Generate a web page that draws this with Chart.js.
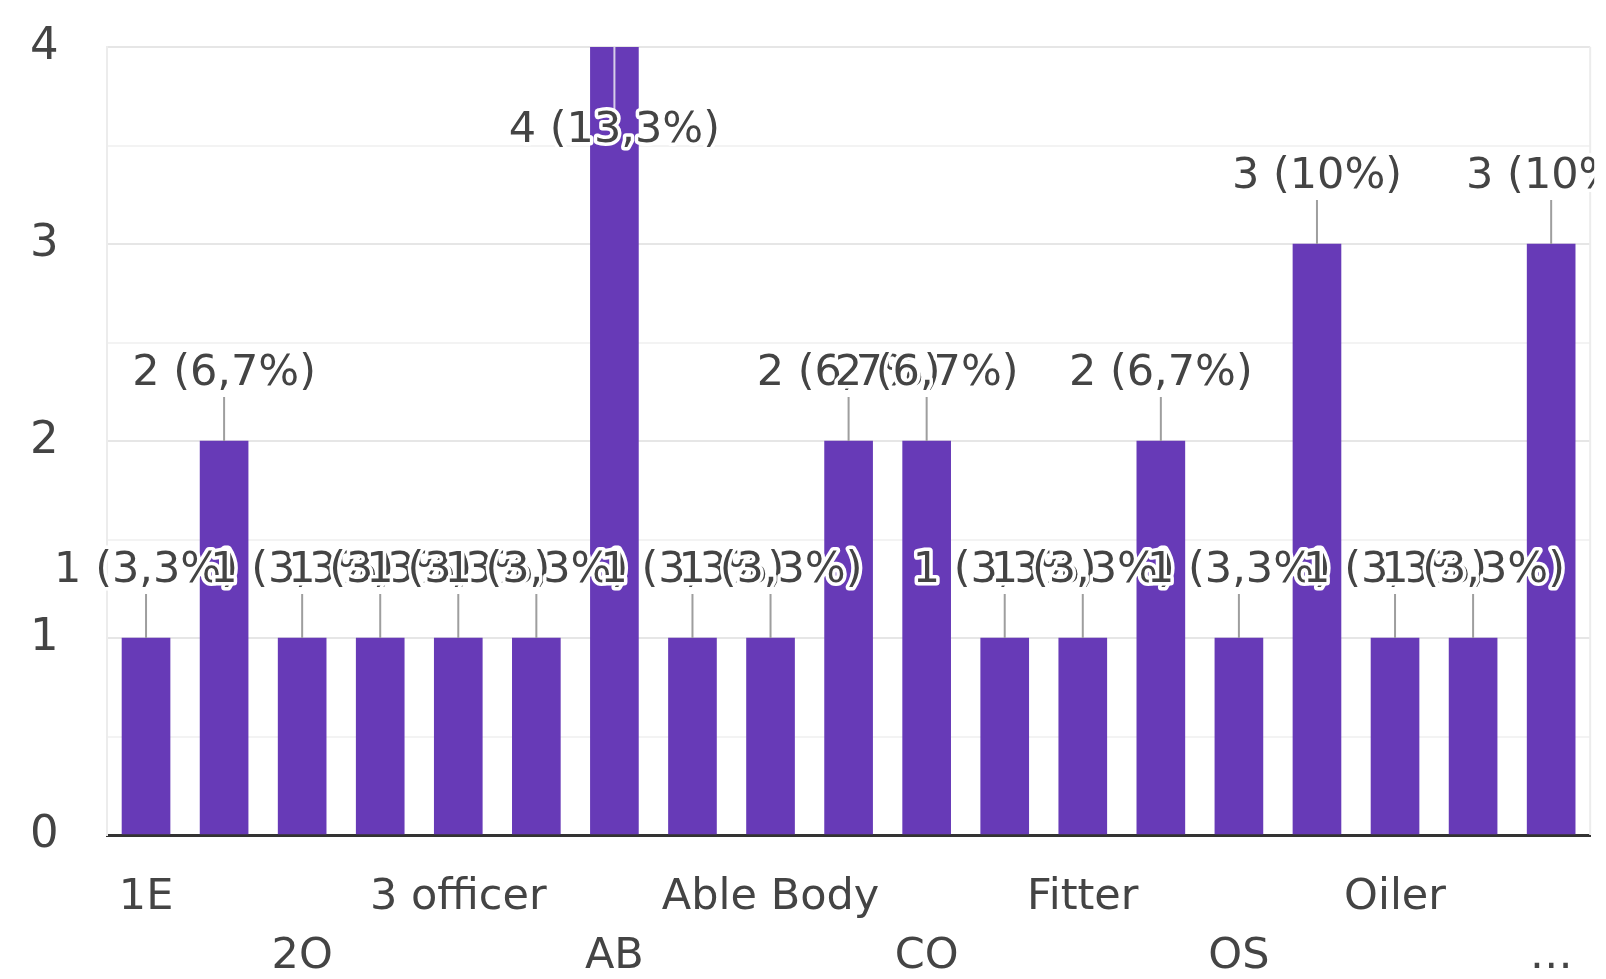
<!DOCTYPE html>
<html>
<head>
<meta charset="utf-8">
<title>Responses by position</title>
<script src="https://cdn.jsdelivr.net/npm/chart.js@4.4.1/dist/chart.umd.min.js"></script>
<style>
    html, body { margin: 0; padding: 0; background: #ffffff; }
    #wrap { width: 1606px; height: 979px; position: relative; }
</style>
</head>
<body>
<div id="wrap"><canvas id="chart"></canvas></div>
<script>
// Data (30 responses in total)
const positions = ['1E', '2E', '2O', '2nd Officer', '3 officer', '3E', 'AB', 'AB seaman', 'Able Body',
    'Bosun', 'CO', 'Cook', 'Fitter', 'Master', 'OS', 'Officer', 'Oiler', 'Wiper', '…'];
const responses = [1, 2, 1, 1, 1, 1, 4, 1, 1, 2, 2, 1, 1, 2, 1, 3, 1, 1, 3];
const yTicks = [0, 1, 2, 3, 4];

const BAR_COLOR = '#673ab7';
const TEXT_COLOR = '#444444';
const FONT_FAMILY = '"DejaVu Sans", "Liberation Sans", sans-serif';

const total = responses.reduce((a, b) => a + b, 0);

/**
 * "1 (3,3%)" style label, comma as decimal mark
 */
function formatLabel(v) {
    let pct = (v / total * 100).toFixed(1).replace(/\.0$/, '').replace('.', ',');
    return v + ' (' + pct + '%)';
}

// Value labels with leader lines and a white halo, like the Forms summary charts
const valueLabels = {
    id: 'valueLabels',
    afterDatasetsDraw(chart) {
        const ctx = chart.ctx;
        const area = chart.chartArea;
        const meta = chart.getDatasetMeta(0);
        ctx.save();
        ctx.beginPath();
        ctx.rect(0, 0, area.right + 4, chart.height);
        ctx.clip();
        ctx.font = '43px ' + FONT_FAMILY;
        ctx.textAlign = 'center';
        ctx.textBaseline = 'middle';
        ctx.lineJoin = 'round';
        meta.data.forEach((bar, i) => {
            const text = formatLabel(responses[i]);
            let ty = bar.y - 67;
            const inside = ty - 20 < 0;
            ctx.lineWidth = 2;
            ctx.beginPath();
            if (inside) {
                ty = bar.y + 84;
                ctx.strokeStyle = '#d6cdea';
                ctx.moveTo(bar.x, bar.y);
                ctx.lineTo(bar.x, ty);
            } else {
                ctx.strokeStyle = '#9e9e9e';
                ctx.moveTo(bar.x, bar.y);
                ctx.lineTo(bar.x, bar.y - 44);
            }
            ctx.stroke();
            ctx.lineWidth = 7;
            ctx.strokeStyle = '#ffffff';
            ctx.strokeText(text, bar.x, ty);
            ctx.fillStyle = TEXT_COLOR;
            ctx.fillText(text, bar.x, ty);
        });
        ctx.restore();
    }
};

// Light frame line on the right edge of the plot
const rightEdge = {
    id: 'rightEdge',
    beforeDatasetsDraw(chart) {
        const ctx = chart.ctx;
        const area = chart.chartArea;
        ctx.save();
        ctx.strokeStyle = '#ececec';
        ctx.lineWidth = 2;
        ctx.beginPath();
        ctx.moveTo(area.right, area.top);
        ctx.lineTo(area.right, area.bottom);
        ctx.stroke();
        ctx.restore();
    }
};

const chart = new Chart(document.getElementById('chart'), {
    type: 'bar',
    data: {
        labels: positions,
        datasets: [{
            data: responses,
            backgroundColor: BAR_COLOR,
            barThickness: 48,
            borderWidth: 0
        }]
    },
    plugins: [rightEdge, valueLabels],
    options: {
        responsive: true,
        maintainAspectRatio: false,
        animation: false,
        layout: { padding: { top: 47, right: 13, bottom: 0, left: 30 } },
        plugins: {
            legend: { display: false },
            tooltip: { enabled: false }
        },
        scales: {
            x: {
                offset: true,
                grid: { display: false, drawTicks: false },
                border: { display: true, color: '#333333', width: 3 },
                ticks: {
                    autoSkip: false,
                    maxRotation: 0,
                    minRotation: 0,
                    padding: 33,
                    color: TEXT_COLOR,
                    font: { family: FONT_FAMILY, size: 43, lineHeight: 1.37 },
                    // every other label, staggered on two rows
                    callback: (value, index) => {
                        if (index % 2) return '';
                        const name = positions[index];
                        return index % 4 === 0 ? [name] : ['', name];
                    }
                },
                afterFit: (scale) => { scale.height = 144; }
            },
            y: {
                min: 0,
                max: 4,
                ticks: {
                    stepSize: 0.5,
                    padding: 0,
                    crossAlign: 'far',
                    color: TEXT_COLOR,
                    font: { family: FONT_FAMILY, size: 45 },
                    callback: (v) => yTicks.includes(v) ? String(v) : ''
                },
                grid: {
                    drawTicks: false,
                    lineWidth: 2,
                    color: (ctx) => {
                        const v = ctx.tick ? ctx.tick.value : 0;
                        if (v === 0) return 'rgba(0,0,0,0)';
                        return Number.isInteger(v) ? '#e6e6e6' : '#f3f3f3';
                    }
                },
                border: { display: true, color: '#ececec', width: 2 },
                afterFit: (scale) => { scale.width = 77; }
            }
        }
    }
});
</script>
</body>
</html>
